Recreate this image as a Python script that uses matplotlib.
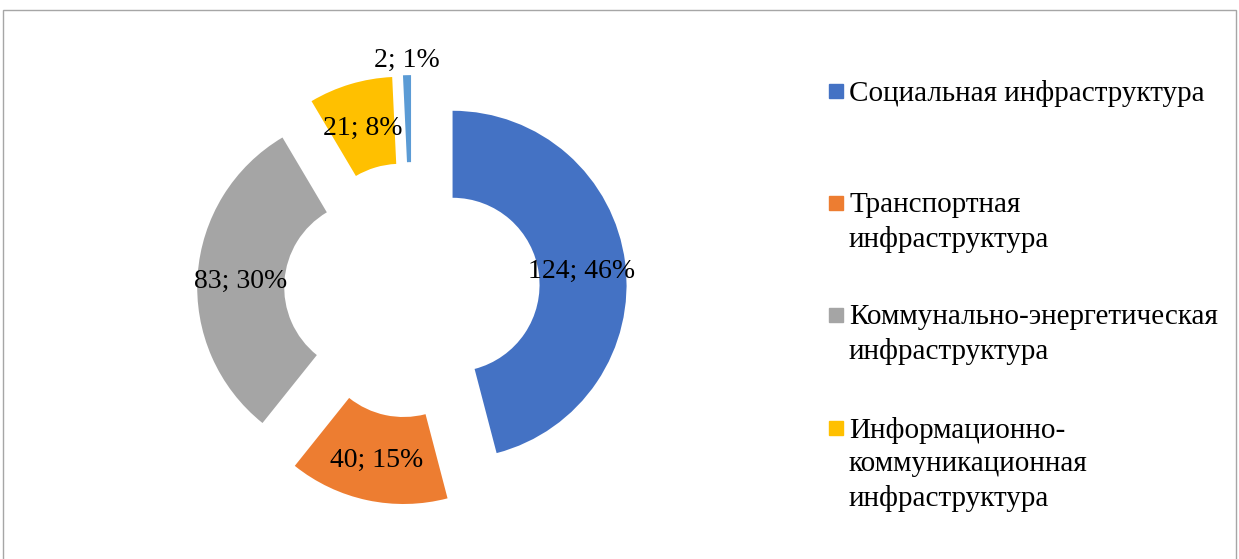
import numpy as np
import matplotlib.pyplot as plt
from matplotlib.patches import Rectangle

plt.rcParams['font.family'] = ['Liberation Serif', 'DejaVu Serif']

# Data
categories = ['Социальная инфраструктура',
              'Транспортная\nинфраструктура',
              'Коммунально-энергетическая\nинфраструктура',
              'Информационно-\nкоммуникационная\nинфраструктура',
              'Прочие']
values = [124, 40, 83, 21, 2]
percents = [46, 15, 30, 8, 1]
colors = ['#4472C4', '#ED7D31', '#A5A5A5', '#FFC000', '#5B9BD5']
legend_shown = 4   # last entry is cut off in the original

W, H = 1239, 559
fig = plt.figure(figsize=(W / 100, H / 100), dpi=100)

# donut centre / radius in pixels
cx, cy, R = 412, 269, 174
ax = fig.add_axes([0, 0, 1, 1])

expl = 0.235
ring = 0.5
wedges, _ = ax.pie(values, colors=colors, startangle=90, counterclock=False,
                   explode=[expl] * len(values), radius=1,
                   wedgeprops=dict(width=ring, linewidth=0))

ax.set_xlim(-cx / R, (W - cx) / R)
ax.set_ylim(-cy / R, (H - cy) / R)
ax.set_aspect('equal')
ax.axis('off')

# data labels
total = sum(values)
start = 0.0
for v, p in zip(values, percents):
    mid = start + v / total * 360 / 2
    start += v / total * 360
    ang = np.deg2rad(mid)
    if v / total < 0.03:
        r = 1 + expl + 0.1
    else:
        r = 1 - ring / 2 + expl
    ax.text(r * np.sin(ang), r * np.cos(ang), f'{v}; {p}%',
            ha='center', va='center_baseline', fontsize=20, color='black')

# legend drawn by hand to match the spacing of the original
y_rows = [91, 203, 315, 428]
for name, col, y in zip(categories[:legend_shown], colors, y_rows):
    fig.patches.append(Rectangle((829 / W, 1 - (y + 7) / H), 14 / W, 14 / H,
                                 transform=fig.transFigure, color=col))
    fig.text(849 / W, 1 - (y - 11) / H, name, ha='left', va='top',
             fontsize=21, linespacing=1.37)

# chart frame
fig.patches.append(Rectangle((3 / W, -0.05), 1233 / W, 1.05 - 10 / H,
                             transform=fig.transFigure, fill=False,
                             edgecolor='#A6A6A6', linewidth=1))

plt.savefig('out.png', dpi=100)
